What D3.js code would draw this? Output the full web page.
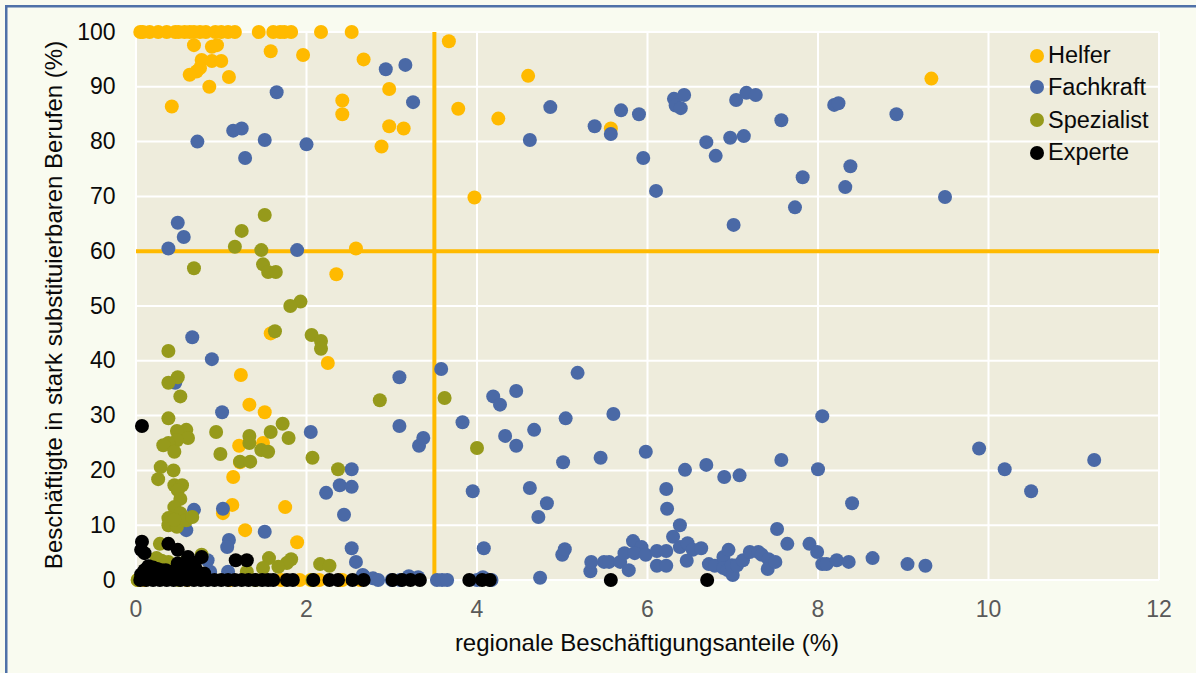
<!DOCTYPE html>
<html><head><meta charset="utf-8">
<script src="https://cdn.jsdelivr.net/npm/d3@7"></script>
<style>html,body{margin:0;padding:0;background:#f9fbf0;overflow:hidden}text{font-family:"Liberation Sans",Arial,sans-serif}</style>
</head><body><svg id="c" width="1196" height="673"></svg>
<script>
const seriesNames=["Helfer","Fachkraft","Spezialist","Experte"];
const seriesColors=["#ffba00","#4a69a6","#969a1b","#000000"];
const xTicks=[0,2,4,6,8,10,12];
const yTicks=[0,10,20,30,40,50,60,70,80,90,100];
const xTitle="regionale Beschäftigungsanteile (%)";
const yTitle="Beschäftigte in stark substituierbaren Berufen (%)";
const thresholdX=3.5, thresholdY=60;
const helfer=[[.05,100],[.08,100],[.16,100],[.26,100],[.36,100],[.46,100],[.5,100],[.57,100],[.63,100],[.68,100],[.75,100],[.82,100],[.93,100],[1,100],[1.08,100],[1.16,100],[1.44,100],[1.61,100],[1.69,100],[1.74,100],[1.82,100],[2.17,100],[2.53,100],
[.68,97.6],[.89,97.3],[.95,97.6],[1.58,96.5],[1.96,95.8],[2.67,95],[3.67,98.3],[.77,94.9],[.89,94.7],[1,94.7],[.75,93.4],[.71,92.8],[.63,92.2],[1.09,91.8],[.86,90],[2.97,89.6],[.42,86.4],[2.42,87.5],[2.42,85],[3.78,86],[2.97,82.8],[3.14,82.4],[2.88,79.1],[3.97,69.8],[2.58,60.5],[2.35,55.8],[4.6,92],[4.25,84.2],[9.33,91.5],[5.57,82.4],
[1.58,45],[2.25,39.6],[1.23,37.4],[1.33,32],[1.51,30.6],[1.21,24.5],[1.49,25],[1.14,18.8],[1.13,13.7],[1.02,12.2],[1.75,13.3],[1.28,9.1],[1.89,6.9],[1.22,21.5],
[.02,0],[.1,0],[.6,0],[1.1,0],[1.7,0],[1.92,0],[2.05,0],[2.15,0],[2.39,0],[2.42,0],[2.63,0]];
const fachkraft=[[2.93,93.2],[3.16,94],[3.25,87.2],[1.65,89],[1.14,82],[1.24,82.4],[.72,80],[1.51,80.3],[2,79.5],[1.28,77],[.49,65.2],[.56,62.6],[.38,60.5],[1.89,60.2],
[4.86,86.3],[4.62,80.3],[5.38,82.8],[5.69,85.7],[5.57,81.4],[5.9,85],[5.95,77],[6.1,71],[6.31,87.8],[6.43,88.5],[6.33,86.6],[6.39,86.1],[6.69,79.9],[6.8,77.4],[6.97,80.7],[7.04,87.6],[7.16,88.9],[7.13,81],[7.27,88.5],[7.57,83.9],[7.82,73.5],[7.73,68],[7.01,64.8],[8.19,86.7],[8.24,87],[8.32,71.7],[8.38,75.5],[8.92,85],[9.49,69.9],
[.66,44.3],[.89,40.3],[.46,36],[1.01,30.6],[2.05,27],[3.09,37],[3.09,28.1],[3.58,38.5],[3.32,24.5],[3.37,25.9],[3.83,28.8],[4.19,33.5],[4.27,32],[2.53,20.2],[2.39,17.3],[2.53,17],[2.23,15.9],[2.44,11.9],[2.53,5.8],[2.58,3.3],[4.08,5.8],[3.95,16.2],
[.68,12.8],[1.02,13],[.59,9.1],[1.51,8.8],[1.09,7.3],[1.07,6],[.84,3.6],[.87,1.5],[1.08,1.5],
[4.33,26.3],[4.46,34.5],[4.46,24.5],[4.67,27.4],[4.62,16.8],[4.72,11.5],[4.82,14],[5.04,29.5],[5.01,21.5],[5.18,37.8],[5.6,30.3],[5.45,22.3],[5.98,23.4],[6.22,16.6],[6.23,13],[6.38,10],[6.44,20.1],[6.69,21],[6.9,18.8],[7.08,19.1],[7.57,21.9],[8.05,29.9],[8,20.2],[8.4,14],[9.89,24],[10.19,20.2],[11.24,21.9],[10.5,16.2],[7.52,9.3],
[5,4.6],[5.03,5.6],[5.33,1.6],[5.34,3.3],[5.49,3.3],[5.55,3.3],[5.68,3.3],[5.73,4.9],[5.78,1.8],[5.83,7.1],[5.93,6],[5.85,4.9],[5.98,4.6],[6.11,5.3],[6.22,5.3],[6.11,2.6],[6.22,2.6],[6.3,7.9],[6.38,6],[6.47,6.7],[6.53,5.5],[6.46,3.5],[6.63,5.8],[6.72,2.9],[6.79,2.6],[6.89,4.2],[6.95,5.5],[6.89,2.2],[6.94,1.8],[7,.9],[6.99,2.7],[7.05,2.7],[7.12,3.6],[7.2,5.1],[7.3,5.1],[7.34,4.6],[7.42,3.8],[7.41,2],[7.5,3.3],[7.64,6.6],[7.9,6.6],[7.99,5.1],[8.05,2.9],[8.1,2.9],[8.22,3.6],[8.36,3.3],[8.64,4],[9.05,2.9],[9.26,2.6],
[2.67,.7],[2.78,.3],[2.84,0],[3.2,.7],[3.31,.5],[3.53,0],[3.59,0],[3.65,0],[4.07,.5],[4.17,0],[4,0],[4.74,.4],[2.66,.9],[3,0],[3.1,0]];
const spezialist=[[1.51,66.6],[1.24,63.7],[1.16,60.8],[1.47,60.2],[1.49,57.6],[1.55,56.2],[1.64,56.2],[.68,56.9],[1.93,50.8],[1.81,50],
[1.63,45.4],[2.06,44.7],[2.17,43.6],[2.17,42.2],[.38,41.8],[.49,37],[.38,36],[.52,33.5],[2.86,32.8],[3.62,33.2],[.38,29.5],[.94,27],[1.72,28.5],[1.58,27],[1.79,25.9],[1.33,26.3],[1.33,25],[.59,27.4],[.48,27.2],[.61,25.9],[.48,25.5],[.38,25],[.32,24.6],[.45,23.4],[.99,23],[1.47,23.7],[1.55,23.4],[1.22,21.6],[1.34,21.6],[2.07,22.3],[2.37,20.2],[4,24.1],[.29,20.6],[.44,20],[.26,18.4],[.45,17.3],[.54,17.3],[.49,16.4],[.52,14.8],[.45,13.3],[.52,12.2],[.38,11.3],[.38,10],[.48,9.7],[.59,10.9],[.66,11.5],[.45,11],
[.28,6.6],[.24,4],[.38,3.3],[.77,4.6],[1.56,4],[1.82,3.8],[1.77,3.1],[1.67,2.4],[1.49,2.2],[1.3,1.5],[2.16,2.9],[2.27,2.6],[.2,2],[.02,0],[.5,0],[1.4,0],[2.07,0],[.3,3.5],[.5,3],[.6,3.6]];
const experte=[[.07,28.1],[.07,7],[.06,5.5],[.1,4.9],[.38,6.6],[.49,5.5],[.61,4.2],[.77,4.2],[.69,3.1],[.49,3],[1.17,3.6],[1.3,3.6],[.14,2.4],[.1,1.8],[.24,1.4],[.6,2.4],[.63,3.3],[.36,1.4],[.06,1],[.15,2.5],[.2,2.3],[.3,1.8],[.4,1.5],[.5,1.5],[.55,2],[.7,2],[.25,2],[.12,1.5],[.35,1.8],[.45,1.6],[.68,1.5],[.8,1.2],
[.05,0],[.12,0],[.2,0],[.28,0],[.36,0],[.44,0],[.52,0],[.6,0],[.68,0],[.76,0],[.84,0],[.92,0],[1,0],[1.08,0],[1.16,0],[1.24,0],[1.32,0],[1.4,0],[1.48,0],[1.55,0],[1.61,0],[1.77,0],[1.84,0],[2.08,0],[2.27,0],[2.37,0],[2.54,0],[2.67,0],[3.01,0],[3.12,0],[3.22,0],[3.33,0],[3.91,0],[4.06,0],[4.15,0],[5.57,0],[6.7,0]];
const allSeries=[helfer,fachkraft,spezialist,experte];

const svg=d3.select("#c");
const x=d3.scaleLinear().domain([0,12]).range([136,1159]);
const y=d3.scaleLinear().domain([0,100]).range([580,32]);
svg.append("rect").attr("x",5).attr("y",5).attr("width",1200).attr("height",2.5).attr("fill","#4f71a8");
svg.append("rect").attr("x",5).attr("y",5).attr("width",2.5).attr("height",700).attr("fill","#4f71a8");
svg.append("rect").attr("x",x(0)).attr("y",y(100)).attr("width",x(12)-x(0)).attr("height",y(0)-y(100)).attr("fill","#eeecdc");
svg.append("g").selectAll("line").data(xTicks).join("line")
 .attr("x1",d=>x(d)).attr("x2",d=>x(d)).attr("y1",y(100)).attr("y2",y(0)).attr("stroke","#fff").attr("stroke-width",2);
svg.append("g").selectAll("line").data(yTicks).join("line")
 .attr("x1",x(0)).attr("x2",x(12)).attr("y1",d=>y(d)).attr("y2",d=>y(d)).attr("stroke","#fff").attr("stroke-width",2);
svg.append("line").attr("x1",x(thresholdX)).attr("x2",x(thresholdX)).attr("y1",y(100)).attr("y2",y(0)).attr("stroke",seriesColors[0]).attr("stroke-width",4);
svg.append("line").attr("x1",x(0)).attr("x2",x(12)).attr("y1",y(thresholdY)).attr("y2",y(thresholdY)).attr("stroke",seriesColors[0]).attr("stroke-width",4);
allSeries.forEach((s,i)=>{
 svg.append("g").selectAll("circle").data(s).join("circle")
  .attr("cx",d=>x(d[0])).attr("cy",d=>y(d[1])).attr("r",7).attr("fill",seriesColors[i]);
});
svg.append("g").selectAll("text").data(yTicks).join("text").text(d=>d)
 .attr("x",115.5).attr("y",d=>y(d)+7.5).attr("text-anchor","end").attr("font-size",23).attr("fill","#0a0a0a");
svg.append("g").selectAll("text").data(xTicks).join("text").text(d=>d)
 .attr("x",d=>x(d)).attr("y",617).attr("text-anchor","middle").attr("font-size",23).attr("fill","#595959");
svg.append("text").text(xTitle).attr("x",647).attr("y",651).attr("text-anchor","middle").attr("font-size",24).attr("fill","#0a0a0a");
svg.append("text").text(yTitle).attr("transform","translate(62,305) rotate(-90)").attr("text-anchor","middle").attr("font-size",24).attr("fill","#0a0a0a");
const legY=[56,87,120,153], legB=[63,95,128,160];
seriesNames.forEach((n,i)=>{
 svg.append("circle").attr("cx",1037).attr("cy",legY[i]).attr("r",7).attr("fill",seriesColors[i]);
 svg.append("text").text(n).attr("x",1048).attr("y",legB[i]).attr("font-size",23.5).attr("fill","#0a0a0a");
});
</script></body></html>
